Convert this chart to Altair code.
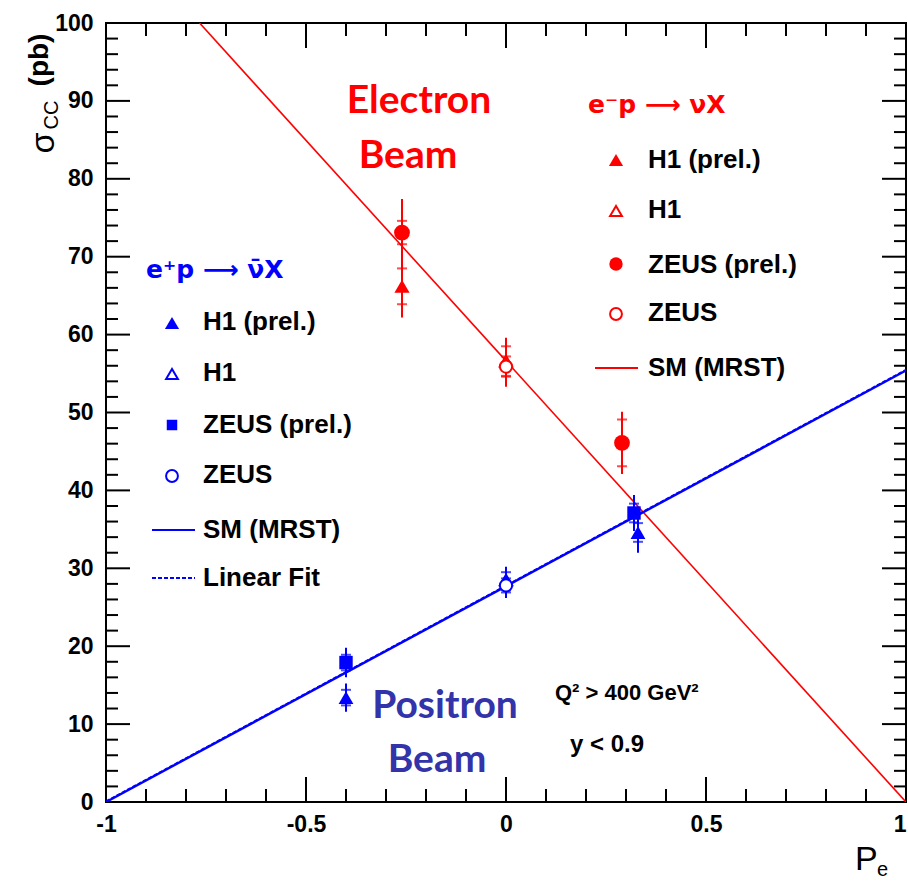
import altair as alt
import pandas as pd

# ---- plot geometry ----
W, H = 800, 779
RED = "#ff0000"
BLUE = "#0000ff"
NAVY = "#3333aa"
LABEL_FONT = "Liberation Sans"
BEAM_FONT = "Lato"

# ---- e-p (electron beam) measurements: P_e, sigma_CC, stat error, total error ----
e_h1p_P = [-0.26]
e_h1p_sig = [66.2]
e_h1p_stat = [2.3]
e_h1p_tot = [4.0]

e_h1_P = [0.0]
e_h1_sig = [56.6]
e_h1_stat = [1.9]
e_h1_tot = [3.0]

e_zeusp_P = [-0.26, 0.29]
e_zeusp_sig = [73.1, 46.1]
e_zeusp_stat = [1.5, 3.0]
e_zeusp_tot = [4.3, 4.0]

e_zeus_P = [0.0]
e_zeus_sig = [55.9]
e_zeus_stat = [1.3]
e_zeus_tot = [2.6]

# ---- e+p (positron beam) measurements ----
p_h1p_P = [-0.40, 0.33]
p_h1p_sig = [13.4, 34.6]
p_h1p_stat = [1.0, 1.2]
p_h1p_tot = [1.8, 2.6]

p_h1_P = [0.0]
p_h1_sig = [28.5]
p_h1_stat = [1.0]
p_h1_tot = [1.7]

p_zeusp_P = [-0.40, 0.32]
p_zeusp_sig = [17.9, 37.1]
p_zeusp_stat = [1.0, 1.2]
p_zeusp_tot = [1.9, 2.3]

p_zeus_P = [0.0]
p_zeus_sig = [27.8]
p_zeus_stat = [0.9]
p_zeus_tot = [1.6]

# ---- Standard Model (MRST) predictions and linear fit ----
e_sm_P = [-0.766, 1.0]
e_sm_sig = [100.0, 0.0]
p_sm_P = [-1.0, 1.0]
p_sm_sig = [0.0, 55.4]
p_fit_P = [-1.0, 1.0]
p_fit_sig = [0.1, 55.5]

# ---- axis ticks ----
x_labels = [-1, -0.5, 0, 0.5, 1]
x_major = [-0.5, 0, 0.5]
x_minor = [-0.9, -0.8, -0.7, -0.6, -0.4, -0.3, -0.2, -0.1,
           0.1, 0.2, 0.3, 0.4, 0.6, 0.7, 0.8, 0.9]
y_labels = [0, 10, 20, 30, 40, 50, 60, 70, 80, 90, 100]
y_major = [10, 20, 30, 40, 50, 60, 70, 80, 90]
y_minor = [v for v in range(2, 100, 2) if v % 10 != 0]

xs = alt.Scale(domain=[-1, 1], nice=False, zero=False)
ys = alt.Scale(domain=[0, 100], nice=False, zero=False)


def measurements(P, sig, stat, tot):
    return pd.DataFrame({
        "P": P, "sig": sig,
        "tot_lo": [s - t for s, t in zip(sig, tot)],
        "tot_hi": [s + t for s, t in zip(sig, tot)],
        "stat_lo": [s - t for s, t in zip(sig, stat)],
        "stat_hi": [s + t for s, t in zip(sig, stat)],
    })


def series(P, sig, stat, tot, color, shape, filled, size):
    df = measurements(P, sig, stat, tot)
    base = alt.Chart(df)
    bar = base.mark_rule(color=color, strokeWidth=2).encode(
        x=alt.X("P:Q", scale=xs), y=alt.Y("tot_lo:Q", scale=ys), y2="tot_hi:Q")
    caps = []
    for f in ["stat_lo", "stat_hi"]:
        caps.append(base.mark_tick(color=color, orient="horizontal", size=10, thickness=2).encode(
            x=alt.X("P:Q", scale=xs), y=alt.Y(f"{f}:Q", scale=ys)))
    kw = dict(shape=shape, filled=filled, color=color, size=size, strokeWidth=2, opacity=1)
    if not filled:
        kw["fill"] = "white"
    pts = base.mark_point(**kw).encode(
        x=alt.X("P:Q", scale=xs), y=alt.Y("sig:Q", scale=ys))
    return [bar] + caps + [pts]


def line(P, sig, color, width, dash=None):
    df = pd.DataFrame({"P": P, "sig": sig})
    kw = dict(color=color, strokeWidth=width, clip=True)
    if dash:
        kw["strokeDash"] = dash
    return alt.Chart(df).mark_line(**kw).encode(
        x=alt.X("P:Q", scale=xs), y=alt.Y("sig:Q", scale=ys))


# ---- axes (labels only; ticks are drawn inward below) ----
axis_layer = alt.Chart(pd.DataFrame({"P": [0.0], "sig": [0.0]})).mark_point(opacity=0).encode(
    x=alt.X("P:Q", scale=xs, title=None,
            axis=alt.Axis(values=x_labels, labelExpr="toString(datum.value)", ticks=False,
                          domain=False, grid=False, labelFont=LABEL_FONT, labelFontSize=23,
                          labelFontWeight="bold", labelColor="black", labelPadding=11,
                          labelFlush=False,
                          labelAlign={"condition": {"test": "datum.value == 1", "value": "right"},
                                      "value": "center"})),
    y=alt.Y("sig:Q", scale=ys, title=None,
            axis=alt.Axis(values=y_labels, ticks=False, domain=False, grid=False,
                          labelFont=LABEL_FONT, labelFontSize=23, labelFontWeight="bold",
                          labelColor="black", labelPadding=13, labelFlush=False)),
)


def xticks(vals, length):
    d = alt.Chart(pd.DataFrame({"P": vals}))
    bottom = d.mark_rule(color="black", strokeWidth=2).encode(
        x=alt.X("P:Q", scale=xs), y=alt.value(H), y2=alt.value(H - length))
    top = d.mark_rule(color="black", strokeWidth=2).encode(
        x=alt.X("P:Q", scale=xs), y=alt.value(0), y2=alt.value(length))
    return [bottom, top]


def yticks(vals, length):
    d = alt.Chart(pd.DataFrame({"sig": vals}))
    left = d.mark_rule(color="black", strokeWidth=2).encode(
        y=alt.Y("sig:Q", scale=ys), x=alt.value(0), x2=alt.value(length))
    right = d.mark_rule(color="black", strokeWidth=2).encode(
        y=alt.Y("sig:Q", scale=ys), x=alt.value(W), x2=alt.value(W - length))
    return [left, right]


tick_layers = xticks(x_minor, 13) + xticks(x_major, 25) + yticks(y_minor, 12) + yticks(y_major, 24)


def txt(text, x, y, size=26, color="black", font=LABEL_FONT, align="left",
        weight="bold", angle=0, baseline="middle"):
    return alt.Chart(pd.DataFrame({"t": [text]})).mark_text(
        align=align, baseline=baseline, fontSize=size, font=font, fontWeight=weight,
        color=color, angle=angle).encode(x=alt.value(x), y=alt.value(y), text="t:N")


def glyph(x, y, shape, color, filled, size):
    kw = dict(shape=shape, filled=filled, color=color, size=size, strokeWidth=2, opacity=1)
    if not filled:
        kw["fill"] = "white"
    return alt.Chart(pd.DataFrame({"a": [0]})).mark_point(**kw).encode(
        x=alt.value(x), y=alt.value(y))


def seg(x1, x2, y, color, width=2, dash=None):
    kw = dict(color=color, strokeWidth=width)
    if dash:
        kw["strokeDash"] = dash
    return alt.Chart(pd.DataFrame({"a": [0]})).mark_rule(**kw).encode(
        x=alt.value(x1), x2=alt.value(x2), y=alt.value(y))


OX, OY = 106, 23  # plot origin inside the page

annotations = []
# positron legend
bx, btx = 172 - OX, 203 - OX
annotations += [
    txt("e\u207ap \u27f6 \u03bd\u0304X", 146 - OX, 270 - OY, size=25, color=BLUE,
        font="DejaVu Sans"),
    glyph(bx, 323 - OY, "triangle-up", BLUE, True, 200), txt("H1 (prel.)", btx, 322 - OY),
    glyph(bx, 374 - OY, "triangle-up", BLUE, False, 140), txt("H1", btx, 373 - OY),
    glyph(bx, 425 - OY, "square", BLUE, True, 110), txt("ZEUS (prel.)", btx, 425 - OY),
    glyph(bx, 476 - OY, "circle", BLUE, False, 140), txt("ZEUS", btx, 475 - OY),
    seg(152 - OX, 195 - OX, 530 - OY, BLUE), txt("SM (MRST)", btx, 530 - OY),
    seg(152 - OX, 195 - OX, 578 - OY, BLUE, 2, [4, 2]), txt("Linear Fit", btx, 578 - OY),
]
# electron legend
rx, rtx = 616 - OX, 648 - OX
annotations += [
    txt("e\u207bp \u27f6 \u03bdX", 588 - OX, 105 - OY, size=25, color=RED,
        font="DejaVu Sans"),
    glyph(rx, 160 - OY, "triangle-up", RED, True, 200), txt("H1 (prel.)", rtx, 160 - OY),
    glyph(rx, 211 - OY, "triangle-up", RED, False, 140), txt("H1", rtx, 210 - OY),
    glyph(rx, 264 - OY, "circle", RED, True, 180), txt("ZEUS (prel.)", rtx, 265 - OY),
    glyph(rx, 314 - OY, "circle", RED, False, 140), txt("ZEUS", rtx, 313 - OY),
    seg(595 - OX, 638 - OX, 368 - OY, RED), txt("SM (MRST)", rtx, 368 - OY),
]
# beam labels and cuts
annotations += [
    txt("Electron", 419 - OX, 101 - OY, size=39, color=RED, font=BEAM_FONT, align="center"),
    txt("Beam", 408 - OX, 156 - OY, size=39, color=RED, font=BEAM_FONT, align="center"),
    txt("Positron", 445 - OX, 706 - OY, size=39, color=NAVY, font=BEAM_FONT, align="center"),
    txt("Beam", 437 - OX, 760 - OY, size=39, color=NAVY, font=BEAM_FONT, align="center"),
    txt("Q\u00b2 > 400 GeV\u00b2", 555 - OX, 693 - OY, size=22),
    txt("y < 0.9", 570 - OX, 745 - OY, size=24),
]
# axis titles
annotations += [
    txt("P", 855 - OX, 860 - OY, size=34, weight="normal"),
    txt("e", 877 - OX, 870 - OY, size=20, weight="normal"),
    txt("\u03c3", 44 - OX, 143 - OY, size=34, weight="normal", angle=270, align="center"),
    txt("CC", 52 - OX, 115 - OY, size=20, weight="normal", angle=270, align="center"),
    txt("(pb)", 40 - OX, 60 - OY, size=28, weight="bold", angle=270, align="center"),
]

layers = [axis_layer] + tick_layers
layers += [line(e_sm_P, e_sm_sig, RED, 1.6),
           line(p_sm_P, p_sm_sig, BLUE, 2.4),
           line(p_fit_P, p_fit_sig, BLUE, 1.6, [4, 2])]
layers += series(e_h1p_P, e_h1p_sig, e_h1p_stat, e_h1p_tot, RED, "triangle-up", True, 230)
layers += series(e_h1_P, e_h1_sig, e_h1_stat, e_h1_tot, RED, "triangle-up", False, 150)
layers += series(e_zeusp_P, e_zeusp_sig, e_zeusp_stat, e_zeusp_tot, RED, "circle", True, 250)
layers += series(e_zeus_P, e_zeus_sig, e_zeus_stat, e_zeus_tot, RED, "circle", False, 150)
layers += series(p_h1p_P, p_h1p_sig, p_h1p_stat, p_h1p_tot, BLUE, "triangle-up", True, 220)
layers += series(p_h1_P, p_h1_sig, p_h1_stat, p_h1_tot, BLUE, "triangle-up", False, 150)
layers += series(p_zeusp_P, p_zeusp_sig, p_zeusp_stat, p_zeusp_tot, BLUE, "square", True, 180)
layers += series(p_zeus_P, p_zeus_sig, p_zeus_stat, p_zeus_tot, BLUE, "circle", False, 150)
layers += annotations

chart = alt.layer(*layers).properties(
    width=W, height=H,
    autosize=alt.AutoSizeParams(type="none"),
    padding={"left": OX, "top": OY, "right": 2, "bottom": 881 - OY - H},
    background="white",
).configure_view(stroke="black", strokeWidth=2)

chart.save("out.html", embed_options={"renderer": "svg", "actions": False})
